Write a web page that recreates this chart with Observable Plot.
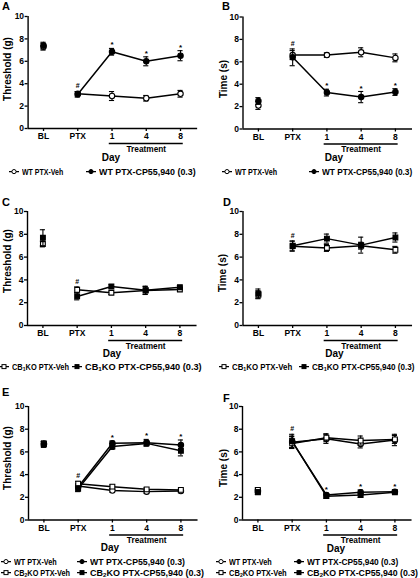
<!DOCTYPE html>
<html><head><meta charset="utf-8">
<script src="https://cdn.jsdelivr.net/npm/d3@7"></script>
<script src="https://cdn.jsdelivr.net/npm/@observablehq/plot@0.6"></script>
<style>
html,body{margin:0;padding:0;background:#fff;}
#fig{position:relative;width:420px;height:578px;overflow:hidden;font-family:"Liberation Sans",Arial,Helvetica,sans-serif;font-weight:bold;color:#000;}
.t{position:absolute;white-space:nowrap;line-height:1;}
.letter{font-size:11px;}
.ylab{font-size:10px;transform:translate(-50%,-50%) rotate(-90deg);}
.day{font-size:10px;transform:translate(-50%,-50%);}
.leg{font-size:8.8px;transform:translateY(-50%);display:flex;align-items:center;}
.leg svg{display:block;}
.leg span{display:inline-block;transform-origin:0 50%;}
sub{font-size:6px;vertical-align:-1.5px;line-height:0;}
</style></head>
<body><div id="fig"></div>
<script>
// ---------- shared categories ----------
const days = ["BL","PTX","1","4","8"];
const yTicks = [0,2,4,6,8,10];

// ---------- Panel A: Threshold (g), WT ----------
const A_names = ["WT PTX-Veh","WT PTX-CP55,940 (0.3)"];
const A_vehMean = [7.3, 3.1, 2.9, 2.7, 3.1];
const A_vehErr  = [0.3, 0.2, 0.4, 0.25, 0.3];
const A_cpMean  = [7.4, 3.05, 6.85, 6.0, 6.5];
const A_cpErr   = [0.3, 0.25, 0.3, 0.4, 0.45];
const A_sigDays = ["PTX","1","4","8"];
const A_sigMarks = ["#","*","*","*"];

// ---------- Panel B: Time (s), WT ----------
const B_names = ["WT PTX-Veh","WT PTX-CP55,940 (0.3)"];
const B_vehMean = [2.1, 6.6, 6.6, 6.85, 6.35];
const B_vehErr  = [0.35, 0.4, 0.2, 0.4, 0.35];
const B_cpMean  = [2.5, 6.4, 3.25, 2.85, 3.3];
const B_cpErr   = [0.3, 0.75, 0.3, 0.5, 0.3];
const B_sigDays = ["PTX","1","4","8"];
const B_sigMarks = ["#","*","*","*"];

// ---------- Panel C: Threshold (g), CB1KO ----------
const C_names = ["CB₁KO PTX-Veh","CB₁KO PTX-CP55,940 (0.3)"];
const C_vehMean = [7.15, 3.13, 2.87, 3.07, 3.16];
const C_vehErr  = [0.25, 0.25, 0.15, 0.35, 0.15];
const C_cpMean  = [7.7, 2.55, 3.42, 3.1, 3.36];
const C_cpErr   = [0.7, 0.3, 0.15, 0.35, 0.15];
const C_sigDays = ["PTX"];
const C_sigMarks = ["#"];

// ---------- Panel D: Time (s), CB1KO ----------
const D_names = ["CB₁KO PTX-Veh","CB₁KO PTX-CP55,940 (0.3)"];
const D_vehMean = [2.7, 6.96, 6.8, 7.0, 6.64];
const D_vehErr  = [0.35, 0.45, 0.3, 0.3, 0.3];
const D_cpMean  = [2.8, 7.0, 7.62, 7.05, 7.72];
const D_cpErr   = [0.4, 0.4, 0.4, 0.7, 0.4];
const D_sigDays = ["PTX"];
const D_sigMarks = ["#"];

// ---------- Panel E: Threshold (g), WT vs CB2KO ----------
const E_names = ["WT PTX-Veh","WT PTX-CP55,940 (0.3)","CB₂KO PTX-Veh","CB₂KO PTX-CP55,940 (0.3)"];
const E_wtVehMean = [6.7, 3.0, 2.6, 2.5, 2.55];
const E_wtVehErr  = [0.2, 0.2, 0.15, 0.15, 0.15];
const E_wtCpMean  = [6.7, 2.9, 6.76, 6.8, 6.6];
const E_wtCpErr   = [0.2, 0.25, 0.2, 0.3, 0.45];
const E_koVehMean = [6.75, 3.2, 2.94, 2.7, 2.65];
const E_koVehErr  = [0.2, 0.2, 0.15, 0.15, 0.15];
const E_koCpMean  = [6.65, 2.75, 6.47, 6.75, 6.1];
const E_koCpErr   = [0.25, 0.25, 0.25, 0.2, 0.45];
const E_sigDays = ["PTX","1","4","8"];
const E_sigMarks = ["#","*","*","*"];

// ---------- Panel F: Time (s), WT vs CB2KO ----------
const F_names = ["WT PTX-Veh","WT PTX-CP55,940 (0.3)","CB₂KO PTX-Veh","CB₂KO PTX-CP55,940 (0.3)"];
const F_wtVehMean = [2.6, 6.85, 7.15, 6.7, 7.05];
const F_wtVehErr  = [0.2, 0.5, 0.4, 0.35, 0.5];
const F_wtCpMean  = [2.5, 6.9, 2.2, 2.45, 2.5];
const F_wtCpErr   = [0.2, 0.5, 0.2, 0.2, 0.15];
const F_koVehMean = [2.65, 6.75, 7.25, 7.0, 7.1];
const F_koVehErr  = [0.2, 0.45, 0.35, 0.4, 0.35];
const F_koCpMean  = [2.45, 6.95, 2.1, 2.2, 2.45];
const F_koCpErr   = [0.2, 0.6, 0.2, 0.2, 0.15];
const F_sigDays = ["PTX","1","4","8"];
const F_sigMarks = ["#","*","*","*"];

// ---------- panel definitions (data refs + layout) ----------
// leg: [swatchLeft, centerY, textEnd] per legend entry (series order)
const panels = [
  {letter:"A", ylabel:"Threshold (g)", left:0, top:0, mt:16, fh:112, ml:27.6,
   series:[{name:A_names[0],mean:A_vehMean,err:A_vehErr,sym:"circle",filled:false},
           {name:A_names[1],mean:A_cpMean,err:A_cpErr,sym:"circle",filled:true}],
   sigDays:A_sigDays, sigMarks:A_sigMarks,
   lt:[2,1], yl:[7.5,69], day:[111,157.5],
   leg:[[8.5,172,62.7],[86,172,195.7]]},
  {letter:"B", ylabel:"Time (s)", left:210, top:0, mt:16.5, fh:112, ml:32.5,
   series:[{name:B_names[0],mean:B_vehMean,err:B_vehErr,sym:"circle",filled:false},
           {name:B_names[1],mean:B_cpMean,err:B_cpErr,sym:"circle",filled:true}],
   sigDays:B_sigDays, sigMarks:B_sigMarks,
   lt:[222,1], yl:[224,78.5], day:[334,157.5],
   leg:[[222,172,277],[308.5,172,411.7]]},
  {letter:"C", ylabel:"Threshold (g)", left:0, top:190, mt:21, fh:114, ml:27,
   series:[{name:C_names[0],mean:C_vehMean,err:C_vehErr,sym:"square",filled:false},
           {name:C_names[1],mean:C_cpMean,err:C_cpErr,sym:"square",filled:true}],
   sigDays:C_sigDays, sigMarks:C_sigMarks,
   lt:[2,196.5], yl:[7.5,261], day:[112,354],
   leg:[[-1.5,366.7,68.5],[72,366.7,201.7]]},
  {letter:"D", ylabel:"Time (s)", left:210, top:190, mt:21, fh:114, ml:32.5,
   series:[{name:D_names[0],mean:D_vehMean,err:D_vehErr,sym:"square",filled:false},
           {name:D_names[1],mean:D_cpMean,err:D_cpErr,sym:"square",filled:true}],
   sigDays:D_sigDays, sigMarks:D_sigMarks,
   lt:[223,196.5], yl:[223,273], day:[334.5,354],
   leg:[[218.5,366.7,291.7],[298.5,366.7,414]]},
  {letter:"E", ylabel:"Threshold (g)", left:0, top:380, mt:26, fh:113.5, ml:28,
   series:[{name:E_names[0],mean:E_wtVehMean,err:E_wtVehErr,sym:"circle",filled:false},
           {name:E_names[1],mean:E_wtCpMean,err:E_wtCpErr,sym:"circle",filled:true},
           {name:E_names[2],mean:E_koVehMean,err:E_koVehErr,sym:"square",filled:false},
           {name:E_names[3],mean:E_koCpMean,err:E_koCpErr,sym:"square",filled:true}],
   sigDays:E_sigDays, sigMarks:E_sigMarks,
   lt:[2,386.5], yl:[8,457.5], day:[110,548],
   leg:[[1,561.7,56.7],[77,561.7,185],[1,572.7,70],[77,572.7,204]]},
  {letter:"F", ylabel:"Time (s)", left:210, top:380, mt:26, fh:113.5, ml:32,
   series:[{name:F_names[0],mean:F_wtVehMean,err:F_wtVehErr,sym:"circle",filled:false},
           {name:F_names[1],mean:F_wtCpMean,err:F_wtCpErr,sym:"circle",filled:true},
           {name:F_names[2],mean:F_koVehMean,err:F_koVehErr,sym:"square",filled:false},
           {name:F_names[3],mean:F_koCpMean,err:F_koCpErr,sym:"square",filled:true}],
   sigDays:F_sigDays, sigMarks:F_sigMarks,
   lt:[223,392.5], yl:[224,468], day:[336,548.5],
   leg:[[216,561.7,271.7],[294,561.7,398.3],[216,572.7,286.7],[294,572.7,418]]}
];

const fig = document.getElementById("fig");
const XDOM = [0.55, 5.5];
const UNIT = 34.25;
const CAP = 0.075;
const SW_W = 10, SW_GAP = 3;

function addText(cls, html, x, y){
  const d = document.createElement("div");
  d.className = "t " + cls;
  d.innerHTML = html;
  d.style.left = x + "px";
  d.style.top = y + "px";
  fig.appendChild(d);
  return d;
}
function htmlName(n){ return n.replace("₁","<sub>1</sub>").replace("₂","<sub>2</sub>"); }
function swatch(s){
  const m = s.sym === "circle"
    ? `<circle cx="5" cy="4" r="2.1" fill="${s.filled?"#000":"#fff"}" stroke="#000" stroke-width="1"/>`
    : `<rect x="3" y="2" width="4" height="4" fill="${s.filled?"#000":"#fff"}" stroke="#000" stroke-width="1"/>`;
  return `<svg width="${SW_W}" height="8" viewBox="0 0 10 8" style="margin-right:${SW_GAP}px"><line x1="0" y1="4" x2="10" y2="4" stroke="#000" stroke-width="1.2"/>${m}</svg>`;
}

for (const p of panels){
  const rows = [];
  p.series.forEach((s,si)=>s.mean.forEach((m,i)=>rows.push({si, pos:i+1, mean:m, lo:m - s.err[i], hi:m + s.err[i]})));
  const sig = p.sigDays.map((d,k)=>{
    const pos = days.indexOf(d) + 1, mark = p.sigMarks[k];
    const cand = rows.filter(r=>r.pos===pos && (mark==="#" || p.series[r.si].filled));
    return {pos, hi:d3.max(cand, r=>r.hi), mark};
  });
  const marks = [
    Plot.ruleY([0], {stroke:"#000", strokeWidth:1.4}),
    Plot.ruleX([XDOM[0]], {y1:0, y2:10, stroke:"#000", strokeWidth:1.4}),
    Plot.axisY({ticks:yTicks, tickSize:3, tickPadding:1, strokeWidth:1.3, label:null, fill:"#000", fontSize:8.5}),
    Plot.axisX({ticks:[1,2,3,4,5], tickFormat:d=>days[d-1], tickSize:3, tickPadding:1.5, strokeWidth:1.3, label:null, fill:"#000", fontSize:8.5})
  ];
  p.series.forEach((s,si)=>{
    const r = rows.filter(d=>d.si===si);
    marks.push(Plot.line(r.filter(d=>d.pos>=2), {x:"pos", y:"mean", stroke:"#000", strokeWidth:1.5}));
    marks.push(Plot.ruleX(r, {x:"pos", y1:"lo", y2:"hi", stroke:"#000", strokeWidth:1.1}));
    marks.push(Plot.ruleY(r, {y:"hi", x1:d=>d.pos-CAP, x2:d=>d.pos+CAP, stroke:"#000", strokeWidth:1.1}));
    marks.push(Plot.ruleY(r, {y:"lo", x1:d=>d.pos-CAP, x2:d=>d.pos+CAP, stroke:"#000", strokeWidth:1.1}));
    marks.push(Plot.dot(r, {x:"pos", y:"mean", symbol:s.sym, r:2.7, fill:s.filled?"#000":"#fff", stroke:"#000", strokeWidth:1.1}));
  });
  marks.push(Plot.text(sig.filter(d=>d.mark==="*"), {x:"pos", y:"hi", text:"mark", dy:-3.5, fontSize:8, fill:"#000"}));
  marks.push(Plot.text(sig.filter(d=>d.mark==="#"), {x:"pos", y:"hi", text:"mark", dy:-5.5, fontSize:7, fill:"#000"}));
  // Treatment bracket under days 1–8
  marks.push(Plot.ruleY([0], {x1:days.indexOf("1")+1-0.08, x2:days.indexOf("8")+1+0.08, dy:15, stroke:"#000", strokeWidth:1.4}));
  marks.push(Plot.text(["Treatment"], {x:days.indexOf("4")+1, y:0, text:d=>d, dy:20.5, fontSize:8.3, fill:"#000"}));

  const mb = 28;
  const width = 210;
  const svg = Plot.plot({
    width, height: p.mt + p.fh + mb,
    marginTop: p.mt, marginBottom: mb, marginLeft: p.ml,
    marginRight: width - p.ml - (XDOM[1]-XDOM[0])*UNIT,
    x:{domain:XDOM}, y:{domain:[0,10]},
    style:{background:"transparent", fontSize:"8.5px", fontWeight:"bold", fontFamily:"Liberation Sans, Arial, sans-serif", overflow:"visible", color:"#000"},
    marks
  });
  svg.style.position = "absolute";
  svg.style.left = p.left + "px";
  svg.style.top = p.top + "px";
  fig.appendChild(svg);

  addText("letter", p.letter, p.lt[0], p.lt[1]);
  addText("ylab", p.ylabel, p.yl[0], p.yl[1]);
  addText("day", "Day", p.day[0], p.day[1]);
  p.series.forEach((s,si)=>{
    const [lx, ly, endX] = p.leg[si];
    const d = addText("leg", swatch(s) + "<span>" + htmlName(s.name) + "</span>", lx, ly);
    const span = d.querySelector("span");
    const w = span.getBoundingClientRect().width;
    const target = endX - (lx + SW_W + SW_GAP);
    if (w > 0) span.style.transform = `scaleX(${target / w})`;
  });
}
</script>
</body></html>
